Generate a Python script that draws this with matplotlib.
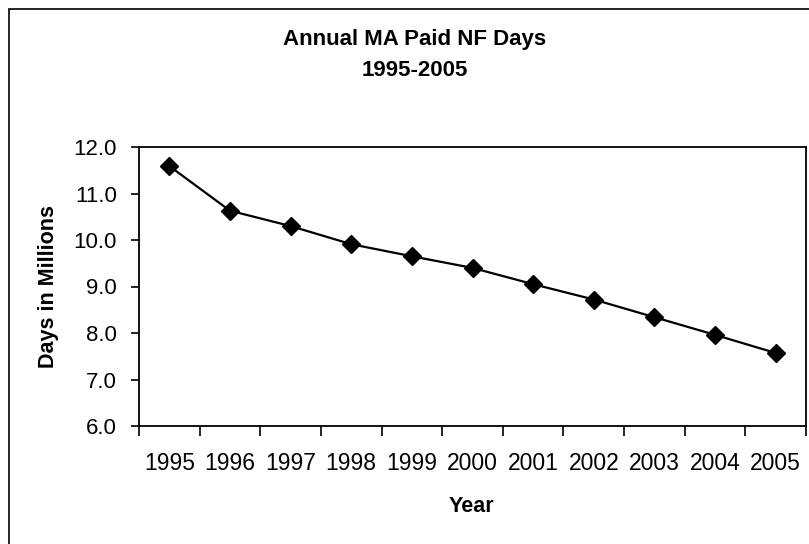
import matplotlib
matplotlib.use("Agg")
import matplotlib.pyplot as plt
from matplotlib.patches import Rectangle
from matplotlib.ticker import FixedLocator, FormatStrFormatter

plt.rcParams['font.family'] = ['Liberation Sans', 'DejaVu Sans']

years = ['1995', '1996', '1997', '1998', '1999', '2000',
         '2001', '2002', '2003', '2004', '2005']
days = [11.59, 10.63, 10.30, 9.91, 9.65, 9.40, 9.05, 8.72, 8.34, 7.96, 7.57]

W, H = 809, 544
fig = plt.figure(figsize=(W / 100, H / 100), dpi=100)

# outer chart frame (right/bottom edges fall outside the picture)
fig.patches.append(Rectangle((9 / W, -0.1), 1.2, 1 - 9 / H + 0.1,
                             transform=fig.transFigure, fill=False,
                             edgecolor='black', linewidth=1.2))

ax = fig.add_axes([139 / W, 1 - 426 / H, (806 - 139) / W, (426 - 147) / H])

x = list(range(len(years)))
ax.plot(x, days, color='black', linewidth=1.6, marker='D', markersize=9,
        markerfacecolor='black', markeredgecolor='black')

ax.set_ylim(6, 12)
ax.set_yticks([6, 7, 8, 9, 10, 11, 12])
ax.yaxis.set_major_formatter(FormatStrFormatter('%.1f'))
ax.tick_params(axis='y', direction='out', length=6, width=1.2,
               labelsize=16, pad=10)

ax.set_xlim(-0.5, len(years) - 0.5)
ax.xaxis.set_major_locator(FixedLocator([i - 0.5 for i in range(len(years) + 1)]))
ax.xaxis.set_minor_locator(FixedLocator(x))
ax.set_xticklabels([])
ax.set_xticklabels(years, minor=True)
ax.tick_params(axis='x', which='major', direction='out', length=7, width=1.2)
ax.tick_params(axis='x', which='minor', length=0, labelsize=16.5, pad=19)

for s in ax.spines.values():
    s.set_linewidth(1.3)
    s.set_color('black')

fig.text(415 / W, 1 - 40 / H, 'Annual MA Paid NF Days', ha='center',
         va='center', fontsize=16, fontweight='bold')
fig.text(415 / W, 1 - 71 / H, '1995-2005', ha='center', va='center',
         fontsize=16, fontweight='bold')
fig.text(49 / W, 1 - 287 / H, 'Days in Millions', rotation=90, ha='center',
         va='center', fontsize=15.5, fontweight='bold')
fig.text(471 / W, 1 - 506 / H, 'Year', ha='center', va='center',
         fontsize=15.5, fontweight='bold')

fig.savefig('out.png', dpi=100)
